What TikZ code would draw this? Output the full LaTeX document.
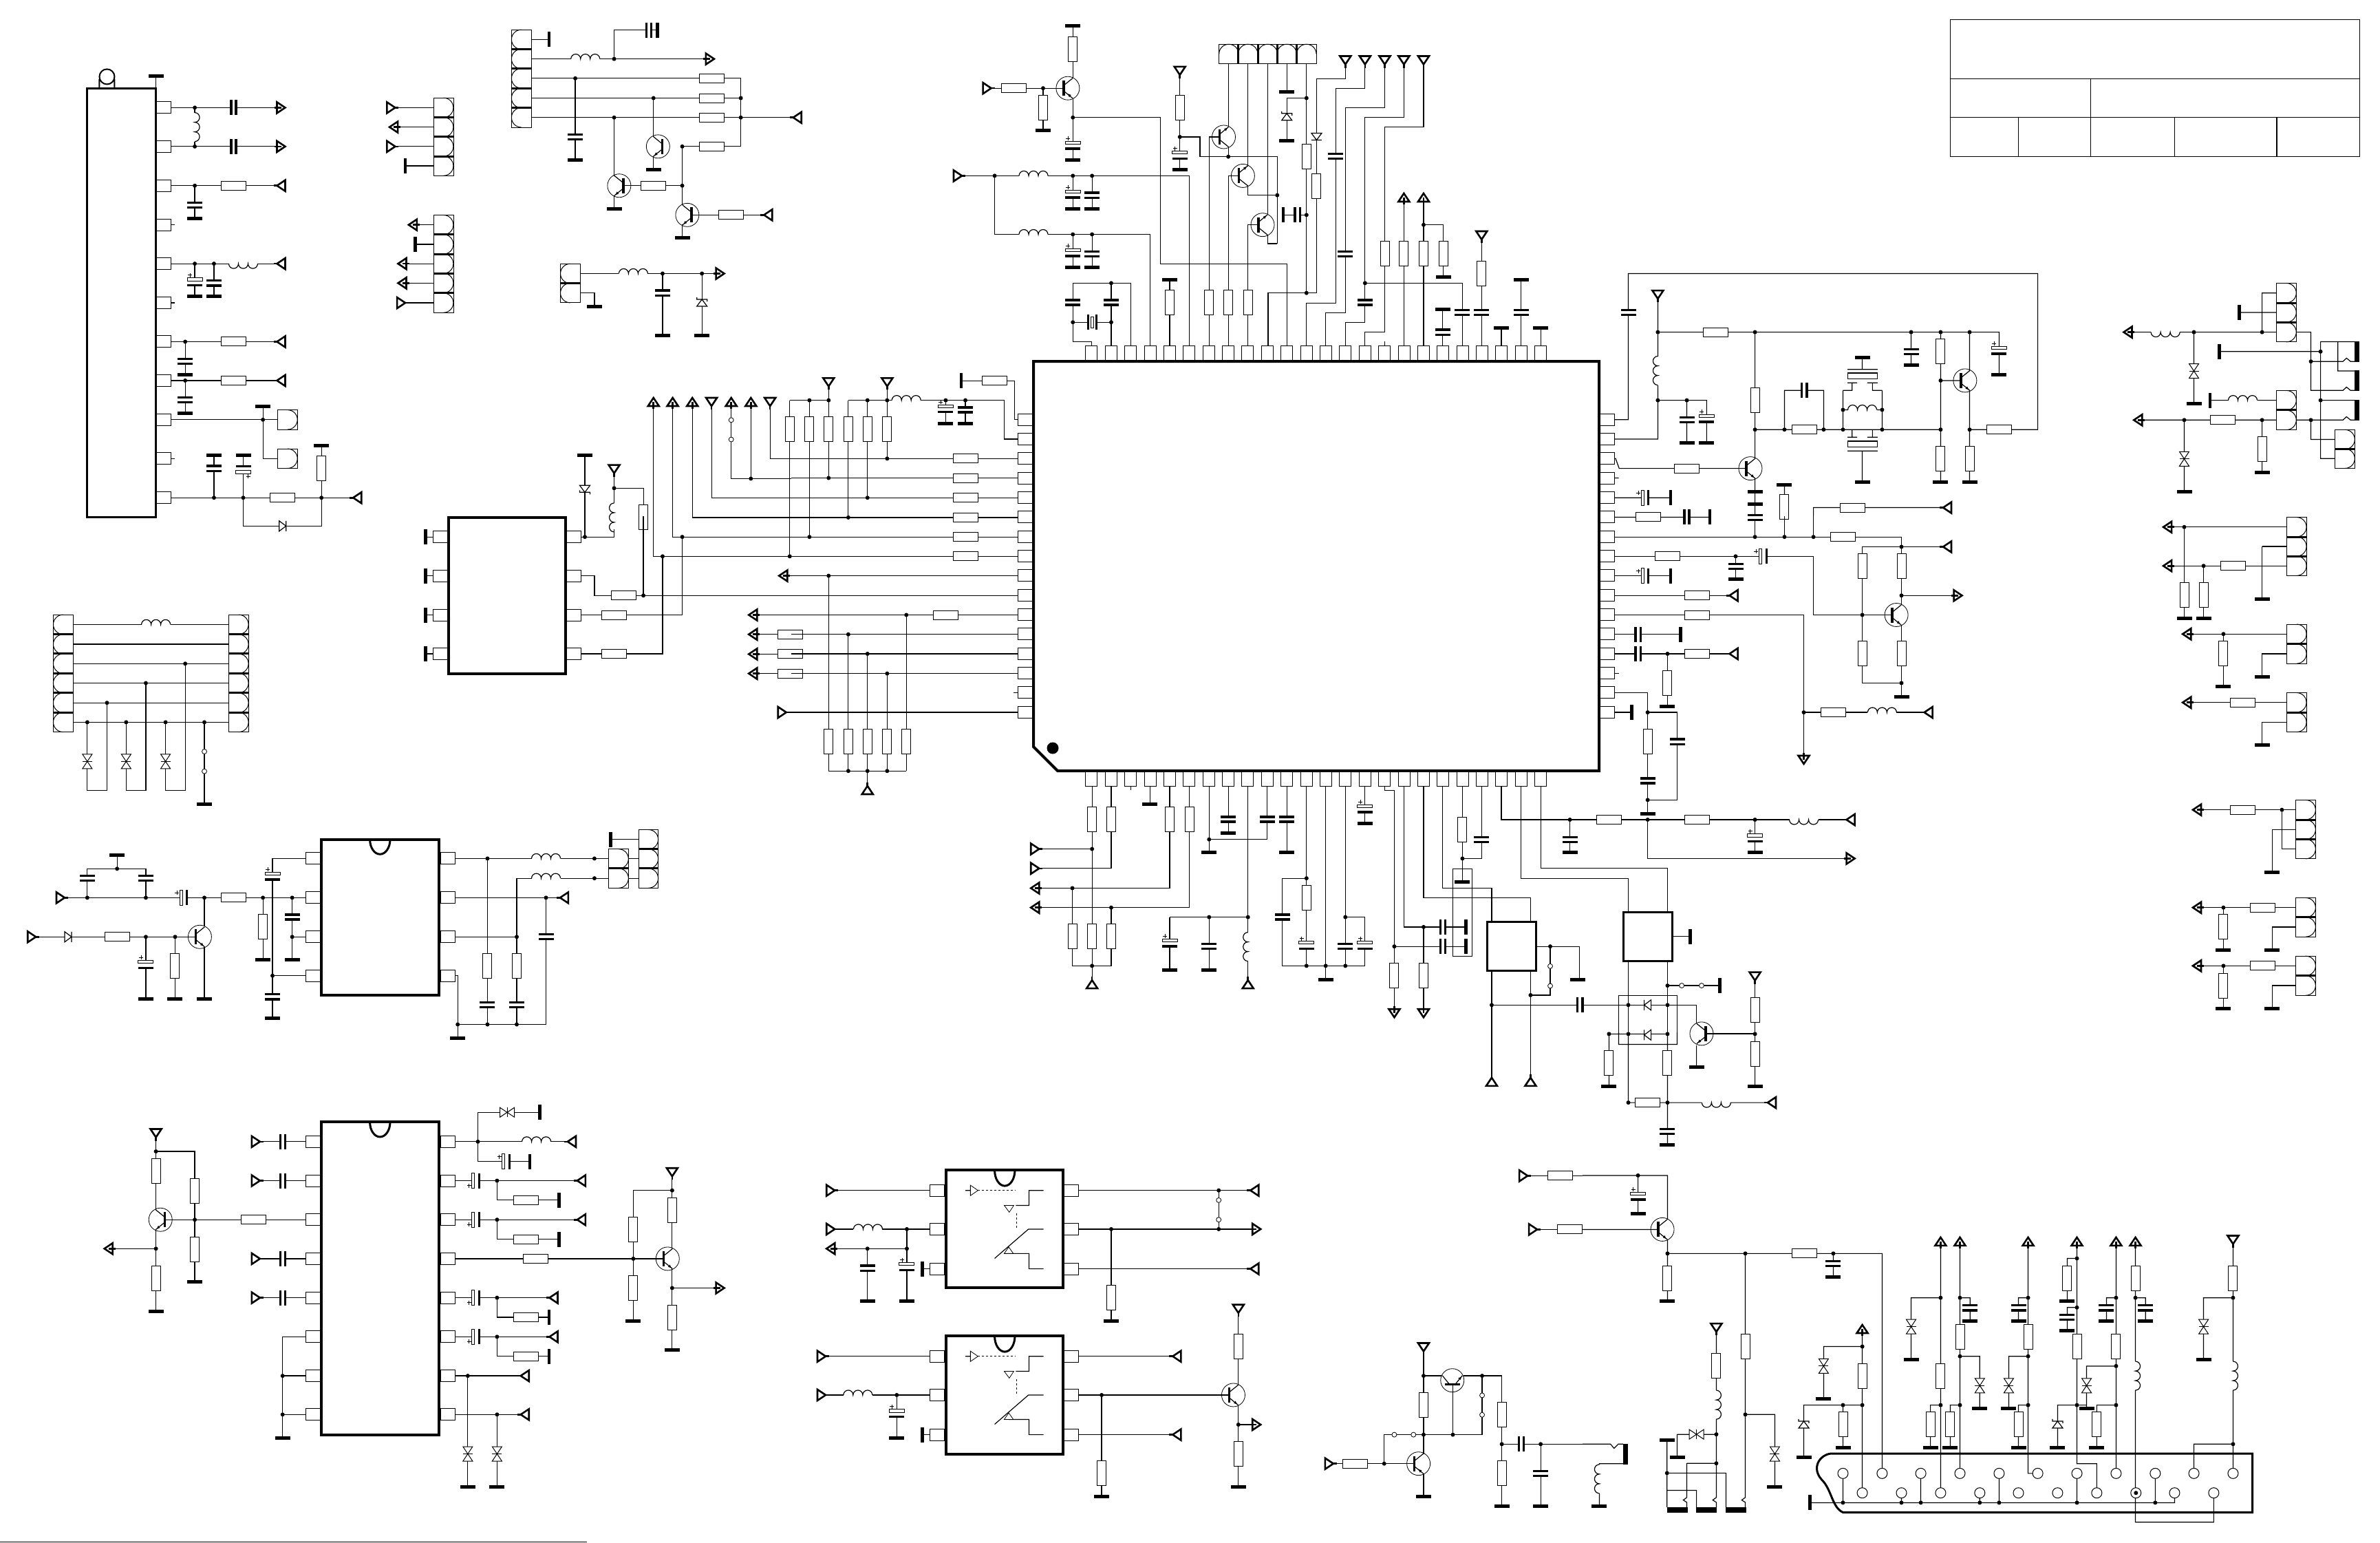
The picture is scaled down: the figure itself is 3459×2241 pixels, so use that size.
\documentclass[tikz,border=0pt]{standalone}
\usepackage{tikz}
\usetikzlibrary{arrows,shapes}
\tikzstyle{wire}=[line width=1.2pt]
\tikzstyle{icbox}=[line width=4pt,line join=miter]
\tikzstyle{resh}=[rectangle,draw,fill=white,line width=1pt,minimum width=36pt,minimum height=13pt,inner sep=0pt]
\tikzstyle{resv}=[rectangle,draw,fill=white,line width=1pt,minimum width=13pt,minimum height=36pt,inner sep=0pt]
\tikzstyle{gnd}=[rectangle,fill=black,minimum width=22pt,minimum height=5pt,inner sep=0pt]
\tikzstyle{gndv}=[rectangle,fill=black,minimum width=4.5pt,minimum height=22pt,inner sep=0pt]
\tikzstyle{tbar}=[rectangle,fill=black,minimum width=7pt,minimum height=30pt,inner sep=0pt]
\tikzstyle{tbarh}=[rectangle,fill=black,minimum width=30pt,minimum height=7.5pt,inner sep=0pt]
\tikzstyle{junction}=[circle,fill=black,minimum size=6pt,inner sep=0pt]
\tikzstyle{contact}=[circle,draw,fill=white,line width=.8pt,minimum size=7pt,inner sep=0pt]
\tikzstyle{pinh}=[rectangle,draw,fill=white,line width=1pt,minimum width=21pt,minimum height=17pt,inner sep=0pt]
\tikzstyle{pinv}=[rectangle,draw,fill=white,line width=1pt,minimum width=17pt,minimum height=21pt,inner sep=0pt]
\tikzstyle{seph}=[rectangle,fill=black,minimum width=28.6pt,minimum height=3pt,inner sep=0pt]
\tikzstyle{sepv}=[rectangle,fill=black,minimum width=3pt,minimum height=28.6pt,inner sep=0pt]
\tikzstyle{socket}=[circle,draw,fill=white,line width=1pt,minimum size=15pt,inner sep=0pt]
\tikzset{
  zone/.style n args={4}{shift={(#1pt,-#2pt)},x=#3pt,y=-#4pt},
  capa/.pic={\fill[white] (-11pt,-4pt) rectangle (11pt,4pt);
    \fill (-11pt,1.9pt) rectangle (11pt,5.2pt); \fill (-11pt,-5.2pt) rectangle (11pt,-1.9pt);},
  elco/.pic={\fill[white] (-11pt,-2pt) rectangle (11pt,3pt);
    \draw[line width=1pt,fill=white] (-11pt,3.2pt) rectangle (11pt,7.4pt);
    \fill (-11pt,-5pt) rectangle (11pt,-1.6pt);
    \draw[line width=.7pt] (-10pt,11.5pt)--(-4pt,11.5pt) (-7pt,8.5pt)--(-7pt,14.5pt);},
  xtal/.pic={\fill[white] (-11pt,-7pt) rectangle (11pt,7pt);
    \fill (-11pt,4.5pt) rectangle (11pt,7.5pt); \fill (-11pt,-7.5pt) rectangle (11pt,-4.5pt);
    \draw[line width=1pt] (-8pt,-2pt) rectangle (8pt,2pt);},
  coil/.pic={\fill[white] (-21pt,-1.5pt) rectangle (21pt,1.5pt);
    \draw[wire] (-21pt,0pt) arc (180:0:7pt) arc (180:0:7pt) arc (180:0:7pt);},
  diod/.pic={\draw[wire,fill=white] (-5pt,7.5pt)--(5pt,0pt)--(-5pt,-7.5pt)--cycle (5pt,7.5pt)--(5pt,-7.5pt);},
  zen/.pic={\draw[wire,fill=white] (-5pt,7.5pt)--(5pt,0pt)--(-5pt,-7.5pt)--cycle (2pt,-7.5pt)--(5pt,-7.5pt)--(5pt,7.5pt)--(8pt,7.5pt);},
  vari/.pic={\draw[line width=1pt,fill=white] (-7pt,10.5pt)--(7pt,10.5pt)--(0pt,0pt)--cycle (-7pt,-10.5pt)--(7pt,-10.5pt)--(0pt,0pt)--cycle;
    \draw[line width=1pt] (-7pt,0pt)--(7pt,0pt);},
  hin/.pic={\draw[line width=2.6pt,fill=white,line join=miter] (-6pt,8pt)--(6pt,0pt)--(-6pt,-8pt)--cycle;
    \draw[line width=2.6pt] (6pt,0pt)--(11pt,0pt);},
  hout/.pic={\draw[line width=2.6pt,fill=white,line join=miter] (-6pt,8pt)--(6pt,0pt)--(-6pt,-8pt)--cycle;
    \draw[line width=2.6pt] (-10pt,0pt)--(0pt,0pt);},
  cn/.pic={\draw[line width=.8pt,fill=white] (-14.3pt,-14.2pt) rectangle (14.3pt,14.2pt);
    \draw[line width=1pt] (0pt,14.2pt) arc (90:-90:14.2pt);},
  npnq/.pic={\draw[line width=.8pt] (0pt,0pt) circle (17pt);
    \fill (-7.7pt,-11pt) rectangle (-4.3pt,11pt);
    \draw[wire] (-6pt,4pt)--(7pt,14.5pt) (-6pt,-4pt)--(7pt,-14.5pt);
    \fill (5.5pt,-13.5pt)--(.7pt,-11.8pt)--(3.2pt,-8.6pt)--cycle;},
  pnpq/.pic={\draw[line width=.8pt] (0pt,0pt) circle (17pt);
    \fill (-7.7pt,-11pt) rectangle (-4.3pt,11pt);
    \draw[wire] (-6pt,4pt)--(7pt,14.5pt) (-6pt,-4pt)--(7pt,-14.5pt);
    \fill (-.5pt,-8pt)--(2.2pt,-13pt)--(4.8pt,-9.8pt)--cycle;},
}
\newcommand{\Rh}[1]{\foreach \x/\y in {#1} \node[resh] (rh\x-\y) at (\x,\y) {};}
\newcommand{\Rv}[1]{\foreach \x/\y in {#1} \node[resv] (rv\x-\y) at (\x,\y) {};}
\newcommand{\Gnd}[1]{\foreach \x/\y in {#1} \node[gnd] (g\x-\y) at (\x,\y) {};}
\newcommand{\Gv}[1]{\foreach \x/\y in {#1} \node[gndv] (gv\x-\y) at (\x,\y) {};}
\newcommand{\Dots}[1]{\foreach \x/\y in {#1} \node[junction] (j\x-\y) at (\x,\y) {};}
\newcommand{\Cont}[1]{\foreach \x/\y in {#1} \node[contact] (k\x-\y) at (\x,\y) {};}
\newcommand{\Pins}[1]{\foreach \x/\y in {#1} \node[pinh] (p\x-\y) at (\x,\y) {};}
\newcommand{\CapV}[1]{\foreach \x/\y in {#1} \pic at (\x,\y) {capa};}
\newcommand{\CapH}[1]{\foreach \x/\y in {#1} \pic[rotate=90] at (\x,\y) {capa};}
\newcommand{\Place}[2]{\foreach \x/\y/\a in {#2} \pic[rotate=\a] at (\x,\y) {#1};}
\newcommand{\Block}[4]{\foreach \y in {#2} \pic[rotate=#3] at (#1,\y) {cn};
  \foreach \y in {#4} \node[seph] (s#1-\y) at (#1,\y) {};}
\newcommand{\Opto}[1]{\begin{scope}[shift={(0,#1)}]
  \draw[icbox] (307,424) rectangle (539,786);
  \draw[line width=3pt] (403,424) arc [start angle=180,end angle=360,x radius=14.7pt,y radius=22.7pt];
  \draw[wire] (345,486)--(355,486) (445,532)--(471,532)--(471,486)--(500,486)
    (403,695)--(470,605)--(500,605) (431,680)--(471,680)--(471,727)--(500,727);
  \draw[wire,dashed] (370,486)--(445,486) (446,556)--(446,605);
  \draw[line width=.8pt,fill=white] (355,470)--(370,486)--(355,502)--cycle (422,532)--(441,532)--(432,553)--cycle (422,680)--(440,680)--(431,660)--cycle;
  \Pins{289/486,289/605,289/727,555/486,555/605,555/727}
\end{scope}}

\begin{document}
\begin{tikzpicture}[line cap=butt]
\useasboundingbox (0pt,0pt) rectangle (3459pt,-2241pt);
% main ic
\draw[icbox] (1502pt,-525pt)--(2324pt,-525pt)--(2324pt,-1120pt)--(1537pt,-1120pt)--(1502pt,-1085pt)--cycle;
\fill (1530pt,-1087pt) circle (8.5pt);
% top left
\begin{scope}[zone={0}{0}{.7334}{.4783}]
\draw[line width=3pt] (173,268) rectangle (309,1571);
\draw[line width=2pt] (212,233) circle (11pt) (197,240)--(197,268) (227,240)--(227,268);
\draw[wire] (309,231)--(309,268)
  (325,327)--(557,327) (325,445)--(557,445) (386,327)--(386,445)
  (325,564)--(557,564) (386,564)--(386,664) (325,683)--(347,683)
  (325,801)--(557,801) (386,801)--(386,901) (424,801)--(424,901) (325,920)--(347,920)
  (325,1038)--(557,1038) (367,1038)--(367,1138) (325,1156)--(557,1156) (367,1156)--(367,1256)
  (325,1275)--(550,1275) (521,1234)--(521,1393)--(550,1393) (325,1393)--(347,1393)
  (325,1512)--(708,1512) (424,1512)--(424,1383) (482,1383)--(482,1598)--(637,1598)--(637,1353)
  (775,327)--(860,327) (780,386)--(860,386) (775,445)--(860,445) (803,504)--(860,504)
  (818,683)--(860,683) (823,742)--(860,742) (797,801)--(860,801) (797,860)--(860,860) (795,920)--(860,920)
  (1053,120)--(1088,120) (1053,179)--(1407,179) (1217,179)--(1217,91)--(1303,91)
  (1053,238)--(1468,238)--(1468,445)--(1352,445) (1140,238)--(1140,486)
  (1053,298)--(1468,298) (1053,357)--(1580,357) (1295,298)--(1295,415) (1295,475)--(1295,516)
  (1217,357)--(1217,535) (1217,593)--(1217,634) (1236,564)--(1352,564)
  (1352,445)--(1352,624) (1352,682)--(1352,723) (1372,653)--(1522,653)
  (1150,831)--(1427,831) (1150,890)--(1178,890)--(1178,931) (1313,831)--(1313,1020) (1391,831)--(1391,1020)
  (1295,1221)--(1295,1568) (1333,1221)--(1333,1568) (1372,1221)--(1372,1568)
  (1410,1221)--(1410,1512)--(1568,1512) (1449,1221)--(1449,1454)--(1568,1454)
  (1488,1221)--(1488,1454) (1526,1221)--(1526,1393)--(1568,1393)
  (1159,1383)--(1159,1568) (1217,1425)--(1217,1568) (1217,1483)--(1276,1483)--(1276,1568);
\Rh{463/564,463/1038,463/1156,560/1512,1410/238,1410/298,1410/357,1410/445,1294/564,1449/653}
\Rv{637/1423,1275/1572}
\Gnd{309/231,386/664,386/901,424/901,367/1138,367/1256,521/1234,424/1383,482/1383,637/1353,1140/486,1295/516,1217/634,1352/723,1178/931,1313/1020,1391/1020,1159/1383}
\Gv{803/504,823/742,1088/120,1303/91}
\Dots{386/327,386/445,386/564,386/801,424/801,367/1038,367/1156,521/1275,424/1512,482/1512,637/1512,1217/179,1140/238,1295/298,1468/298,1217/357,1468/357,1352/445,1352/564,1313/831,1391/831,1488/1454,1217/1483}
\Cont{1449/1276,1449/1335}
\CapH{463/327,463/445,1286/91}
\CapV{386/623,424/860,367/1097,367/1215,424/1423,1140/416,1313/890}
\Place{elco}{386/860/0,482/1423/180}
\Place{coil}{386/386/-90,482/801/180,1160/179/0,1255/831/0,1217/1572/90}
\Place{diod}{560/1598/0}
\Place{zen}{1391/920/90,1159/1485/-90}
\Place{hout}{557/327/0,557/445/0,780/386/180,818/683/180,797/801/180,797/860/180,1407/179/0,1427/831/0,1295/1221/90,1333/1221/90,1372/1221/90,1449/1221/90,1488/1221/90}
\Place{hin}{557/564/180,557/801/180,557/1038/180,557/1156/180,708/1512/180,775/327/0,775/445/0,795/920/0,1522/653/180,1580/357/180,1410/1221/-90,1526/1221/-90,1217/1425/-90}
\pic[xscale=-1] at (1304,445) {npnq};
\pic[xscale=-1] at (1227,564) {npnq};
\pic[xscale=-1] at (1362,653) {npnq};
\Block{570}{1275,1393}{0}{}
\Block{879}{327,386,445,504}{0}{357,416,475}
\Block{879}{683,742,801,860,920}{0}{712,772,831,890}
\Block{1033}{120,179,238,298,357}{180}{149,208,268,327}
\Block{1130}{831,890}{180}{860}
\Pins{325/327,325/445,325/564,325/683,325/801,325/920,325/1038,325/1156,325/1275,325/1393,325/1512}
\end{scope}
% top middle
\begin{scope}[zone={1150}{0}{.7334}{.4783}]
\draw[wire] (558,79)--(558,237) (558,298)--(558,486) (558,357)--(732,357)--(732,802)--(982,802)--(982,1072)
  (540,268)--(388,268) (499,268)--(499,397)
  (330,534)--(789,534)--(789,1072) (558,534)--(558,634) (596,534)--(596,634)
  (403,534)--(403,712)--(711,712)--(711,1072) (558,712)--(558,812) (596,712)--(596,812)
  (558,860)--(673,860)--(673,1072) (558,860)--(558,1038)--(595,1038)--(595,1072) (634,860)--(634,1072) (558,979)--(634,979)
  (750,850)--(750,1072)
  (828,1072)--(828,416)--(848,416) (867,193)--(867,385) (867,445)--(867,476)
  (866,1072)--(866,534)--(886,534) (905,193)--(905,505) (905,563)--(905,593)--(963,593)
  (905,1072)--(905,683)--(925,683) (944,193)--(944,653) (944,712)--(944,740)--(963,740)
  (770,215)--(770,516) (770,416)--(810,416)--(810,476)--(963,476)--(963,740)
  (982,193)--(982,279) (1021,193)--(1021,890) (1021,298)--(982,298)--(982,427) (975,653)--(1021,653)
  (945,1072)--(945,890)--(1041,890)--(1041,239)--(1098,239)--(1098,183)
  (1021,1072)--(1021,921)--(1079,921)--(1079,269)--(1137,269)--(1137,183)
  (1059,1072)--(1059,950)--(1098,950)--(1098,327)--(1176,327)--(1176,183)
  (1098,1072)--(1098,979)--(1137,979)--(1137,357)--(1214,357)--(1214,183)
  (1137,1072)--(1137,1009)--(1176,1009)--(1176,386)--(1253,386)--(1253,183)
  (1176,1050)--(1176,1038) (1214,1072)--(1214,600) (1253,1072)--(1253,600) (1253,683)--(1292,683)--(1292,842)
  (1291,1072)--(1291,939) (1330,1072)--(1330,860)--(1137,860) (1368,1072)--(1368,715)
  (1407,1072)--(1407,997) (1446,1072)--(1446,850) (1485,1072)--(1485,997)
  (-3,1216)--(74,1216) (74,1161)--(74,1452) (36,1216)--(36,1568) (-3,1216)--(-3,1568)
  (113,1216)--(422,1216)--(422,1334)--(464,1334) (190,1161)--(190,1393) (151,1216)--(151,1512) (113,1216)--(113,1568)
  (306,1216)--(306,1287) (345,1216)--(345,1287) (337,1157)--(442,1157)--(442,1275)--(464,1275)
  (0,1393)--(464,1393) (0,1452)--(464,1452) (0,1512)--(464,1512);
\Rh{441/268,403/1157,345/1393,345/1452,345/1512}
\Rv{558/149,499/327,770/327,828/919,866/919,905/919,750/919,1021/475,1041/565,1176/771,1214/771,1253/771,1292/771,1368/831,-3/1304,36/1304,74/1304,113/1304,151/1304,190/1304}
\Gnd{558/79,558/486,499/397,558/634,596/634,558/812,596/812,770/516,750/850,982/279,982/427,1292/842,1291/939,1407/997,1446/850,1485/997,306/1287,345/1287}
\Gv{975/653,337/1157}
\Dots{499/268,558/357,403/534,558/534,596/534,558/712,596/712,634/860,558/979,634/979,770/416,866/476,963/593,1021/298,1021/653,1021/890,1137/860,1253/683,36/1216,74/1216,151/1216,190/1216,306/1216,345/1216,190/1393,74/1452,151/1512}
\CapV{596/593,596/771,558/919,634/919,1079/475,1098/771,1137/919,1291/1009,1330/949,1368/949,1446/949,345/1245}
\CapH{1003/653}
\pic[rotate=90] at (597,979) {xtal};
\Place{elco}{558/445/0,558/593/0,558/771/0,770/475/0,306/1245/0}
\Place{coil}{480/534/0,480/712/0,228/1216/0}
\Place{zen}{982/355/90}
\Place{diod}{1041/415/-90}
\Place{hout}{1214/600/90,1253/600/90}
\Place{hin}{388/268/0,330/534/0,770/215/-90,1098/183/-90,1137/183/-90,1176/183/-90,1214/183/-90,1253/183/-90,1368/715/-90,74/1161/-90,190/1161/-90}
\pic at (548,268) {pnpq};
\pic[yscale=-1] at (857,416) {npnq};
\pic[yscale=-1] at (895,534) {npnq};
\pic[yscale=-1] at (934,683) {npnq};
\foreach \x in {867,905,944,982,1021} \pic[rotate=90] at (\x,164) {cn};
\foreach \x in {886,925,963,1002} \node[sepv] (st\x) at (\x,164) {};
\end{scope}
% top right
\begin{scope}[zone={2300}{0}{.7392}{.4783}]
\draw[wire] (723,60) rectangle (1528,475) (723,239)--(1528,239) (723,356)--(1528,356)
  (999,239)--(999,475) (857,356)--(857,475) (1164,356)--(1164,475) (1365,356)--(1365,475);
\draw[wire] (49,1275)--(90,1275)--(90,831)--(895,831)--(895,1305)--(761,1305)
  (49,1334)--(148,1334)--(148,895) (148,1009)--(819,1009)--(819,1138)
  (148,1216)--(244,1216)--(244,1345) (205,1216)--(205,1345)
  (339,1009)--(339,1393) (339,1305)--(704,1305) (397,1305)--(397,1186)--(474,1186)--(474,1305)
  (49,1393)--(65,1393)--(72,1423)--(322,1423) (339,1453)--(339,1531) (339,1531)--(339,1568)
  (512,1186)--(530,1186)--(530,1163) (570,1163)--(570,1186)--(589,1186) (512,1186)--(512,1305) (589,1186)--(589,1305)
  (550,1086)--(550,1122) (521,1122)--(580,1122) (521,1163)--(540,1163) (560,1163)--(580,1163)
  (530,1305)--(530,1328) (570,1305)--(570,1328) (521,1328)--(540,1328) (560,1328)--(580,1328)
  (521,1370)--(580,1370) (550,1370)--(550,1464) (512,1245)--(589,1245)
  (704,1009)--(704,1464) (704,1156)--(743,1156) (761,1009)--(761,1126) (761,1186)--(761,1464) (646,1009)--(646,1109)
  (63,1452)--(71,1452) (49,1512)--(173,1512) (49,1571)--(250,1571)
  (397,1472)--(397,1568) (454,1568)--(454,1542)--(717,1542)
  (1072,1009)--(1432,1009)--(1432,1186)--(1495,1186)--(1502,1176)--(1510,1186)--(1518,1186)
  (1202,1009)--(1202,1226) (1336,1009)--(1336,890)--(1365,890) (1291,949)--(1365,949)
  (1432,1098)--(1495,1098)--(1502,1088)--(1510,1098)--(1518,1098)
  (1451,1038)--(1518,1038) (1485,1038)--(1485,1127)--(1518,1127)
  (1451,1038)--(1451,1393)--(1480,1393) (1252,1068)--(1451,1068) (1451,1216)--(1518,1216)
  (1234,1216)--(1365,1216) (1092,1276)--(1495,1276)--(1502,1266)--(1510,1276)--(1518,1276)
  (1183,1276)--(1183,1494) (1336,1276)--(1336,1435) (1432,1276)--(1432,1335)--(1480,1335);
\draw[wire,fill=white] (521,1133) rectangle (580,1151) (521,1340) rectangle (580,1358);
\Rh{262/1009,436/1305,819/1305,205/1423,129/1571,531/1542,1259/1276}
\Rv{339/1216,704/1068,704/1394,761/1394,397/1540,1336/1364}
\Gnd{205/1345,244/1345,339/1494,339/1531,550/1086,550/1464,646/1109,704/1464,761/1464,819/1138,397/1472,1202/1226,1183/1494,1336/1435}
\Gv{173/1512,250/1571,1291/949,1252/1068,1234/1216}
\foreach \y in {1068,1157,1246} \node[tbar] (tb\y) at (1523,\y) {};
\Dots{148/1009,148/1216,205/1216,339/1009,646/1009,704/1009,761/1009,339/1305,397/1305,474/1305,512/1305,589/1305,704/1305,761/1305,704/1156,512/1245,589/1245,1202/1009,1336/1009,1432/1098,1451/1068,1451/1216,1183/1276,1336/1276,1432/1276}
\CapV{90/949,205/1275,646/1068}
\CapH{436/1186,205/1571}
\Place{elco}{244/1275/0,819/1068/0}
\pic[rotate=90,xscale=-1] at (125,1512) {elco};
\Place{coil}{148/1126/90,550/1245/0,1146/1009/180,1298/1216/0}
\Place{vari}{1202/1127/0,1183/1394/0}
\Place{hout}{1072/1009/180,1092/1276/180}
\Place{hin}{148/895/-90,717/1542/180}
\pic at (330,1423) {npnq};
\pic at (752,1156) {npnq};
\Block{1384}{890,949,1009}{0}{920,979}
\Block{1384}{1216,1276}{0}{1245}
\Block{1499}{1335,1393}{0}{1364}
\end{scope}
% middle left
\begin{scope}[zone={0}{750}{.7334}{.4783}]
\draw[wire] (145,329)--(454,329) (145,389)--(454,389) (145,448)--(454,448) (145,507)--(454,507) (145,567)--(454,567) (145,626)--(454,626)
  (173,626)--(173,833)--(212,833)--(212,567) (250,626)--(250,833)--(289,833)--(289,507)
  (328,626)--(328,833)--(367,833)--(367,448) (405,626)--(405,874)
  (1137,63)--(1217,63)--(1217,40) (1159,63)--(1159,0) (1275,0)--(1275,241)
  (1137,181)--(1178,181)--(1178,241)--(1568,241)
  (1137,300)--(1352,300)--(1352,63) (1137,418)--(1313,418)--(1313,122)
  (1333,0)--(1333,63)--(1568,63) (1295,0)--(1295,122)--(1568,122) (1372,0)--(1372,4)--(1568,4) (1565,0)--(1565,122)
  (843,63)--(873,63) (843,181)--(873,181) (843,300)--(873,300) (843,418)--(873,418)
  (1552,181)--(1568,181) (1492,300)--(1568,300) (1492,359)--(1568,359) (1492,419)--(1568,419) (1492,478)--(1568,478) (1550,596)--(1568,596)
  (621,1040)--(540,1040)--(540,1526) (540,1396)--(621,1396)
  (621,1159)--(120,1159) (173,1159)--(173,1071)--(289,1071)--(289,1159) (232,1029)--(232,1071)
  (521,1159)--(521,1348) (579,1159)--(579,1348) (579,1278)--(621,1278)
  (405,1159)--(405,1247) (405,1308)--(405,1466)
  (63,1278)--(387,1278) (289,1278)--(289,1466) (347,1278)--(347,1466)
  (887,1040)--(1266,1040) (966,1040)--(966,1544) (887,1159)--(1118,1159) (1082,1159)--(1082,1544)--(907,1544)
  (887,1278)--(1024,1278) (1024,1100)--(1024,1544) (1024,1100)--(1266,1100)
  (887,1396)--(907,1396)--(907,1568) (1210,982)--(1266,982);
\draw[icbox] (889,4) rectangle (1121,479);
\draw[icbox] (637,982) rectangle (870,1455);
\draw[line width=3pt] (733,982) arc [start angle=180,end angle=360,x radius=14.7pt,y radius=21.5pt];
\Rh{1236/241,1217/300,1217/418,1566/359,1566/419,1566/478,463/1159,232/1278}
\Rv{521/1248,347/1367,966/1367,1024/1367}
\Gnd{405/874,232/1029,521/1348,579/1348,405/1466,289/1466,347/1466,540/1526}
\Gv{843/63,843/181,843/300,843/418,1210/982}
\Dots{367/448,289/507,212/567,173/626,250/626,328/626,405/626,1159/63,1275/241,1352/63,1313/122,1565/122,232/1071,173/1159,289/1159,405/1159,521/1159,579/1159,579/1278,289/1278,347/1278,540/1396,966/1040,1178/1040,1178/1100,1082/1159,1024/1278,907/1544,966/1544,1024/1544}
\Cont{405/715,405/775}
\CapV{173/1100,289/1100,579/1218,540/1460,966/1485,1024/1485,1082/1277}
\Place{elco}{540/1097/0,289/1365/0}
\pic[rotate=90,xscale=-1] at (366,1159) {elco};
\Place{coil}{309/329/0,1082/1040/0,1082/1100/0}
\Place{vari}{173/745/0,250/745/0,328/745/0}
\Place{diod}{135/1278/0}
\Place{hout}{1552/181/180,1492/300/180,1492/359/180,1492/419/180,1492/478/180}
\Place{hin}{1550/596/0,120/1159/0,63/1278/0,1118/1159/180}
\pic at (396,1278) {npnq};
\Block{125}{329,389,448,507,567,626}{180}{359,418,478,537,597}
\Block{473}{329,389,448,507,567,626}{0}{359,418,478,537,597}
\Block{1285}{982,1041,1100}{0}{1011,1070}
\Block{1226}{1041,1100}{0}{1070}
\Pins{873/63,873/181,873/300,873/418,1137/63,1137/181,1137/300,1137/418,621/1040,621/1159,621/1278,621/1396,887/1040,887/1159,887/1278,887/1396}
\end{scope}
% middle
\begin{scope}[zone={1150}{750}{.7334}{.4783}]
\draw[wire] (0,4)--(464,4) (0,63)--(464,63) (0,122)--(464,122) (0,181)--(464,181) (0,241)--(464,241) (0,300)--(464,300)
  (0,359)--(464,359) (0,418)--(464,418) (0,478)--(464,478) (440,537)--(464,537) (0,596)--(464,596)
  (36,0)--(36,63) (113,0)--(113,4) (74,181)--(74,774) (113,359)--(113,774) (151,418)--(151,832) (190,478)--(190,774) (228,300)--(228,774)
  (74,774)--(228,774)
  (596,799)--(596,1422) (483,1011)--(596,1011) (634,799)--(634,1070)--(483,1070) (673,821)--(673,833) (711,799)--(711,874)
  (750,799)--(750,1130)--(483,1130) (789,799)--(789,1189)--(483,1189)
  (557,1130)--(557,1366)--(634,1366)--(634,1189)
  (828,799)--(828,1022) (828,982)--(943,982)--(943,799) (866,799)--(866,963)
  (905,799)--(905,1422) (750,1218)--(905,1218) (750,1218)--(750,1378) (828,1218)--(828,1378)
  (982,799)--(982,1022) (1021,799)--(1021,1366) (1021,1100)--(973,1100)--(973,1366)--(1137,1366)
  (1059,799)--(1059,1408) (1098,799)--(1098,1366) (1098,1218)--(1137,1218)--(1137,1366)
  (1137,799)--(1137,933) (1176,821)--(1176,833)--(1195,833)--(1195,1510)
  (1195,1307)--(1337,1307) (1214,799)--(1214,1248)--(1337,1248) (1253,1248)--(1253,1510)
  (1253,799)--(1253,1159)--(1465,1159)--(1465,1233) (1291,799)--(1291,1130)--(1388,1130)--(1388,1233)
  (1330,799)--(1330,1111) (1368,799)--(1368,1040)--(1330,1040)
  (1311,1071) rectangle (1349,1337)
  (1407,799)--(1407,922)--(1568,922) (1543,922)--(1543,1022)
  (1446,799)--(1446,1100)--(1568,1100) (1485,799)--(1485,1070)--(1568,1070)
  (1388,1381)--(1388,1568) (1388,1485)--(1568,1485)
  (1465,1381)--(1465,1568) (1465,1455)--(1504,1455)--(1504,1307)--(1476,1307) (1504,1307)--(1562,1307)--(1562,1408);
\draw[line width=3pt] (1379,1233) rectangle (1476,1381);
\Rh{345/4,345/63,345/122,306/300}
\Rv{74/685,113/685,151/685,190/685,228/685,596/921,634/921,750/921,789/921,557/1277,596/1277,634/1277,1021/1159,1195/1396,1253/1396,1330/952}
\Gnd{711/874,828/1022,866/963,982/1022,750/1378,828/1378,1059/1408,1137/933,1330/1111,1543/1022,1558/1408}
\Gv{1337/1248,1337/1307}
\Dots{36/63,113/4,74/181,228/300,113/359,151/418,190/478,113/774,151/774,190/774,596/1011,557/1130,634/1189,596/1366,828/982,828/1218,905/1218,1021/1100,1021/1366,1059/1366,1098/1366,1098/1218,1195/1307,1253/1248,1330/1040,1543/922,1388/1485,1465/1455,1504/1307}
\Cont{1504/1367,1504/1427}
\CapV{866/921,943/921,982/921,828/1307,973/1218,1098/1307,1368/982,1543/982}
\CapH{1291/1248,1291/1307,1563/1485}
\Place{elco}{1137/892/0,750/1300/0,1021/1307/0,1137/1307/0}
\Place{coil}{905/1308/90}
\Place{hout}{483/1130/180,483/1189/180,1195/1510/-90,1253/1510/-90}
\Place{hin}{151/832/90,483/1011/0,483/1070/0,596/1422/90,905/1422/90}
\end{scope}
% middle right
\begin{scope}[zone={2300}{750}{.7392}{.4783}]
\draw[wire] (0,922)--(527,922) (339,922)--(339,1022) (128,922)--(128,1040)--(527,1040)
  (49,537)--(128,537)--(128,904) (128,596)--(186,596)--(186,862)--(128,862)
  (49,596)--(97,596) (63,478)--(71,478)
  (49,418)--(297,418) (167,418)--(167,578) (49,359)--(193,359)
  (49,300)--(435,300)--(435,740) (435,596)--(680,596) (49,241)--(297,241)
  (49,181)--(173,181) (49,122)--(357,122) (301,122)--(301,192) (357,122)--(454,122)--(454,300)--(608,300)
  (49,63)--(627,63) (339,-37)--(339,63) (397,0)--(397,63) (454,0)--(454,63)
  (627,63)--(627,270) (550,93)--(717,93) (550,93)--(550,507)--(627,507) (627,241)--(738,241) (627,330)--(627,548)
  (1150,33)--(1385,33) (1183,33)--(1183,311) (1336,92)--(1385,92) (1336,92)--(1336,252)
  (1150,151)--(1385,151) (1221,151)--(1221,311)
  (1188,358)--(1385,358) (1260,358)--(1260,518) (1385,418)--(1336,418)--(1336,489)
  (1188,566)--(1385,566) (1385,626)--(1336,626)--(1336,695)
  (1208,892)--(1403,892) (1375,892)--(1375,1011)--(1403,1011) (1403,952)--(1356,952)--(1356,1081)
  (1208,1189)--(1403,1189) (1260,1189)--(1260,1318) (1403,1248)--(1356,1248)--(1356,1318)
  (1208,1366)--(1403,1366) (1260,1366)--(1260,1496) (1403,1426)--(1356,1426)--(1356,1496)
  (177,1277)--(212,1277) (0,1100)--(90,1100)--(90,1203) (0,1070)--(167,1070)--(167,1203)
  (90,1352)--(90,1568) (167,1352)--(167,1568) (167,1426)--(270,1426)
  (0,1485)--(224,1485)--(224,1540) (71,1568)--(71,1456)--(186,1456)--(186,1568)
  (243,1572)--(339,1572) (339,1398)--(339,1568);
\draw[line width=3pt] (80,1203) rectangle (177,1352);
\Rh{52/922,225/922,167/122,225/241,225/300,225/418,512/63,493/596,1279/151,1298/566,1298/892,1337/1189,1337/1366}
\Rv{128/685,167/508,550/151,627/151,550/418,627/418,1183/240,1221/240,1260/418,1260/1248,1260/1426,339/1500}
\Gnd{339/1022,128/904,167/578,301/192,627/548,1183/311,1221/311,1336/252,1260/518,1336/489,1336/695,1356/1081,1260/1318,1356/1318,1260/1496,1356/1496}
\Gv{97/596,193/359,173/181,212/1277,270/1426}
\Dots{128/922,339/922,128/596,128/862,167/418,301/122,339/63,397/63,454/63,627/93,550/300,627/241,627/507,435/596,1183/33,1221/151,1260/358,1375/892,1260/1189,1260/1366,167/1426,90/1485,167/1485}
\Cont{195/1426,234/1426}
\CapV{128/804,186/685,301/153,339/4}
\CapH{109/359,109/418}
\Place{elco}{339/981/0}
\pic[rotate=90,xscale=-1] at (125,181) {elco};
\pic[rotate=90,xscale=-1] at (357,122) {elco};
\Place{coil}{435/922/180,589/596/0}
\Place{diod}{128/1485/180}
\Place{hout}{527/1040/0,435/740/-90,738/241/0,1150/33/180,1150/151/180,1188/358/180,1188/566/180,1208/892/180,1208/1189/180,1208/1366/180}
\Place{hin}{527/922/180,297/241/180,297/418/180,680/596/180,717/93/180,339/1398/-90}
\pic at (617,300) {npnq};
\Block{1404}{33,92,151}{0}{63,122}
\Block{1404}{358,418}{0}{388}
\Block{1404}{566,626}{0}{596}
\Block{1422}{892,952,1011}{0}{922,982}
\Block{1422}{1189,1248}{0}{1218}
\Block{1422}{1366,1426}{0}{1396}
\end{scope}
% bottom left
\begin{scope}[zone={0}{1500}{.7334}{.4726}]
\draw[wire] (907,0)--(907,18)
  (507,336)--(621,336) (507,456)--(621,456) (507,696)--(621,696) (507,816)--(621,816)
  (621,576)--(328,576) (309,366)--(386,366)--(386,767)
  (309,310)--(309,545) (309,606)--(309,857) (215,665)--(309,665)
  (621,936)--(560,936)--(560,1247) (560,1056)--(621,1056) (560,1175)--(621,1175)
  (887,336)--(1133,336) (947,246)--(947,397) (947,246)--(1070,246) (947,397)--(1050,397)
  (887,456)--(1152,456) (985,456)--(985,516)--(1108,516) (887,576)--(1152,576) (985,576)--(985,636)--(1108,636)
  (887,696)--(1313,696) (1332,430)--(1332,665) (1332,486)--(1255,486)--(1255,887)
  (1332,726)--(1332,977) (1332,786)--(1427,786)
  (887,816)--(1097,816) (985,816)--(985,876)--(1088,876) (887,936)--(1097,936) (985,936)--(985,996)--(1088,996)
  (887,1056)--(1040,1056) (927,1056)--(927,1397) (887,1175)--(1040,1175) (985,1175)--(985,1397)
  (0,1566)--(1163,1566);
\draw[icbox] (637,276) rectangle (870,1237);
\draw[line width=3pt] (733,276) arc [start angle=180,end angle=360,x radius=14.7pt,y radius=21.5pt];
\Rh{502/576,1062/696,1043/516,1043/636,1043/876,1043/996}
\Rv{309/426,309/756,386/487,386/667,1332/546,1255/606,1255/786,1332/876}
\Gnd{907/18,309/857,386/767,560/1247,1255/887,1332/977,927/1397,985/1397}
\Gv{1070/246,1050/397,1108/516,1108/636,1088/876,1088/996}
\Dots{309/366,309/665,386/576,560/1056,560/1175,947/336,985/456,985/576,985/816,985/936,1332/486,1255/696,1332/786,927/1056,985/1175}
\CapH{560/336,560/456,560/696,560/816}
\pic[rotate=90,xscale=-1] at (1005,397) {elco};
\Place{elco}{945/456/90,945/576/90,945/816/90,945/936/90}
\Place{coil}{1063/336/0}
\Place{vari}{1005/246/90,927/1296/0,985/1296/0}
\Place{hout}{215/665/180,1427/786/0}
\Place{hin}{507/336/0,507/456/0,507/696/0,507/816/0,309/310/-90,1133/336/180,1152/456/180,1152/576/180,1332/430/-90,1097/816/180,1097/936/180,1040/1056/180,1040/1175/180}
\pic[xscale=-1] at (318,576) {npnq};
\pic at (1323,696) {npnq};
\Pins{621/336,621/456,621/576,621/696,621/816,621/936,621/1056,621/1175,887/336,887/456,887/576,887/696,887/816,887/936,887/1056,887/1175}
\end{scope}
% bottom middle
\begin{scope}[zone={1150}{1500}{.7334}{.4726}]
\draw[wire] (1388,0)--(1388,152) (1465,0)--(1465,152)
  (78,486)--(289,486) (78,605)--(289,605) (229,605)--(229,827) (78,665)--(229,665) (151,665)--(151,827) (260,727)--(289,727)
  (555,486)--(918,486) (555,605)--(922,605) (555,727)--(918,727) (847,486)--(847,605) (634,605)--(634,887)
  (60,996)--(289,996) (60,1115)--(289,1115) (209,1115)--(209,1247) (260,1237)--(289,1237)
  (555,996)--(764,996) (555,1115)--(866,1115) (615,1115)--(615,1427) (555,1237)--(764,1237)
  (886,850)--(886,1085) (886,1145)--(886,1397) (886,1206)--(922,1206)
  (1451,441)--(1568,441) (1470,606)--(1568,606)
  (1066,1326)--(1235,1326) (1175,1326)--(1175,1237)--(1369,1237)--(1369,1056)--(1332,1056)
  (1253,968)--(1253,1296) (1253,1356)--(1253,1427) (1253,1056)--(1288,1056) (1311,1085)--(1311,1237)
  (1369,1056)--(1408,1056)--(1408,1457) (1408,1266)--(1568,1266) (1485,1266)--(1485,1457);
\Opto{0}
\Opto{510}
\Rh{1524/441,1543/606,1118/1326}
\Rv{634/815,615/1356,886/966,886/1296,1253/1146,1408/1176,1408/1356}
\Gnd{151/827,229/827,634/887,209/1247,615/1427,886/1397,1253/1427,1408/1457,1485/1457}
\Gv{260/727,260/1237}
\Dots{229/605,229/665,151/665,634/605,847/486,847/605,209/1115,615/1115,886/1206,1175/1326,1253/1056,1253/1237,1311/1237,1369/1056,1408/1266,1485/1266}
\Cont{847/516,847/576,1195/1237,1233/1237,1369/1116,1369/1176}
\CapV{151/725,1485/1356}
\CapH{1447/1266}
\Place{elco}{229/724/0,209/1175/0}
\Place{coil}{152/605/0,132/1115/0}
\Place{hout}{78/665/180,922/605/0,922/1206/0}
\Place{hin}{1388/152/90,1465/152/90,78/486/0,78/605/0,918/486/180,918/727/180,60/996/0,60/1115/0,764/996/180,764/1237/180,886/850/-90,1451/441/0,1470/606/0,1066/1326/0,1253/968/-90}
\pic at (876,1115) {npnq};
\pic at (1243,1326) {pnpq};
\pic[rotate=90] at (1310,1070) {npnq};
\end{scope}
% bottom right
\begin{scope}[zone={2300}{1500}{.7392}{.4726}]
\draw[wire] (71,0)--(71,37)--(186,37)--(186,0) (52,5)--(167,5) (52,5)--(52,166) (90,0)--(90,216) (167,0)--(167,346) (90,216)--(372,216)
  (224,40)--(224,107) (339,0)--(339,166)
  (0,440)--(167,440)--(167,575) (109,440)--(109,557) (0,606)--(149,606) (167,636)--(167,827) (167,680)--(589,680)--(589,1356) (493,680)--(493,752)
  (320,680)--(320,1430)--(313,1438)--(320,1445)--(320,1460) (320,1175)--(378,1175)--(378,1397)
  (263,908)--(263,1430)--(256,1438)--(263,1445)--(263,1460) (205,1325)--(263,1325) (205,1325)--(205,1430)--(198,1438)--(205,1445)--(205,1460)
  (186,1236)--(263,1236) (186,1236)--(186,1306)
  (166,1254)--(166,1460) (166,1355)--(282,1355)--(282,1460) (166,1408)--(224,1408)--(224,1460)
  (33,1457)--(33,1326)--(80,1326) (0,1266)--(55,1266)--(62,1279)--(70,1266)--(80,1266)
  (447,1446)--(1164,1446)--(1164,1416) (512,1356)--(512,1446) (627,1416)--(627,1446) (665,1356)--(665,1446) (781,1416)--(781,1446)
  (819,1356)--(819,1446) (972,1356)--(972,1446) (1126,1356)--(1126,1446)
  (550,912)--(550,1416) (550,966)--(474,966)--(474,1127) (550,1146)--(435,1146)--(435,1306) (512,1146)--(512,1276)
  (704,643)--(704,1416) (704,816)--(646,816)--(646,1007) (704,1146)--(684,1146)--(684,1276)
  (742,643)--(742,1356) (742,816)--(762,816)--(762,887) (742,996)--(781,996)--(781,1157) (742,1146)--(723,1146)--(723,1276)
  (876,643)--(876,1356)--(895,1356) (876,816)--(857,816)--(857,887) (876,996)--(838,996)--(838,1157) (876,1146)--(857,1146)--(857,1276)
  (972,643)--(972,1326)--(1011,1326)--(1011,1416) (972,695)--(953,695)--(953,827) (972,846)--(953,846)--(953,917)
  (972,1146)--(934,1146)--(934,1276) (1049,1026)--(991,1026)--(991,1157) (972,1146)--(991,1146)
  (1049,643)--(1049,1356) (1049,816)--(1030,816)--(1030,887) (1049,1146)--(1011,1146)--(1011,1276)
  (1087,643)--(1087,1506)--(1241,1506)--(1241,1416) (1087,816)--(1107,816)--(1107,887)
  (1279,638)--(1279,1356) (1279,816)--(1221,816)--(1221,1007) (1279,1266)--(1202,1266)--(1202,1356);
\draw[line width=3pt] (488,1295)--(1317,1295)--(1317,1476)--(512,1476) .. controls (490,1460) and (490,1405) .. (470,1375) .. controls (450,1340) and (465,1300) .. (488,1295) -- cycle;
\Rh{128/216,436/680}
\Rv{52/95,167/95,339/66,167/756,320/966,263/1025,550/1056,512/1206,704/1056,684/1206,723/1206,742/936,876/936,857/1206,953/756,972/966,1011/1206,1049/966,1087/756,1279/756}
\Gnd{52/166,224/107,339/166,167/346,109/557,167/827,493/752,378/1397,186/1306,166/1254,32/1457,474/1127,435/1306,512/1276,646/1007,684/1276,723/1276,762/887,781/1157,857/887,838/1157,857/1276,953/827,953/917,934/1276,991/1157,1030/887,1011/1276,1107/887,1221/1007}
\Gv{447/1446}
\foreach \x in {186,243,301} \node[tbarh] (tb\x) at (\x,1468) {};
\node[tbar] (tbc) at (85,1296) {};
\Dots{52/5,90/5,167/5,90/216,167/216,339/5,109/440,167/680,320/680,493/680,320/1175,263/1236,263/1325,166/1355,512/1446,627/1446,665/1446,781/1446,819/1446,972/1446,1126/1446,550/966,550/1146,512/1146,704/816,704/1146,742/816,742/996,742/1146,876/816,876/996,876/1146,972/695,972/846,972/1146,1049/816,1049/1026,1049/1146,1087/816,1279/816,1279/1266}
\CapV{167/305,493/711,762/847,857/847,953/876,1030/847,1107/847}
\Place{elco}{109/507/0}
\Place{coil}{263/216/180,263/1145/-90,33/1373/90,1087/1056/-90,1279/1056/-90}
\Place{vari}{224/1236/90,378/1296/0,474/1026/0,646/905/0,781/1086/0,838/1086/0,991/1086/0,1221/905/0}
\Place{zen}{435/1206/90,934/1206/90}
\Place{diod}{128/8/180}
\Place{hout}{550/912/90,704/643/90,742/643/90,876/643/90,972/643/90,1049/643/90,1087/643/90}
\Place{hin}{1279/638/-90,263/908/-90,372/216/180}
\pic at (157,606) {npnq};
\foreach \x in {512,589,665,742,819,895,972,1049,1126,1202,1279} \node[socket] (st\x) at (\x,1356) {};
\foreach \x in {550,627,704,781,857,934,1011,1088,1164,1241} \node[socket] (sb\x) at (\x,1416) {};
\node[junction] (jc) at (1088,1416) {};
\end{scope}
% t at end of right column
\begin{scope}[zone={2300}{750}{.7392}{.4783}]
\pic[xscale=-1] at (234,1572) {npnq};
\end{scope}
% main ic pins
\begin{scope}[zone={1150}{0}{.7334}{.4783}]
\foreach \i [evaluate=\i as \px using 595+38.7*\i] in {0,...,23} {
  \node[pinv] (pt\i) at (\px,1072) {};
  \node[pinv] (pb\i) at (\px,2367) {};
}
\foreach \i [evaluate=\i as \py using 1275+59.2*\i] in {0,...,15} \node[pinh] (pl\i) at (464,\py) {};
\end{scope}
\begin{scope}[zone={2300}{0}{.7392}{.4783}]
\foreach \i [evaluate=\i as \py using 1275+59.2*\i] in {0,...,15} \node[pinh] (pr\i) at (49,\py) {};
\end{scope}
\end{tikzpicture}
\end{document}
